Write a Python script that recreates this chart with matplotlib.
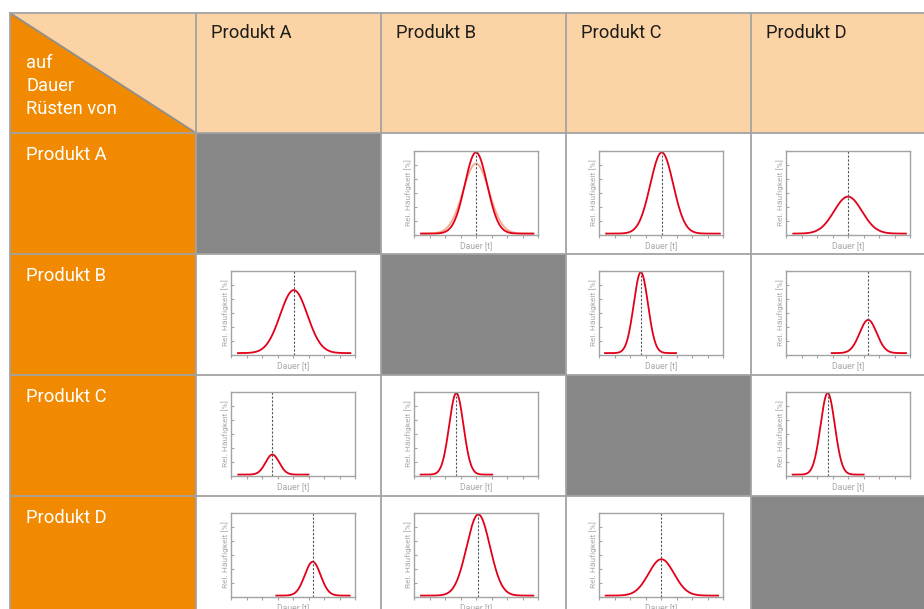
import numpy as np
import matplotlib.pyplot as plt
from matplotlib.patches import Rectangle, Polygon

plt.rcParams['font.family'] = ['Roboto', 'DejaVu Sans']

products = ['Produkt A', 'Produkt B', 'Produkt C', 'Produkt D']
corner_text = ['auf', 'Dauer', 'Rüsten von']

# Lage, Streuung und Höhe der Glockenkurven (Zeile = Rüsten von, Spalte = auf)
means = [[None, 4.0, 4.05, 4.0],
         [4.05, None, 2.7, 5.3],
         [2.67, 2.73, None, 2.69],
         [5.27, 4.15, 4.02, None]]
sigmas = [[None, 0.72, 0.74, 0.9],
          [0.88, None, 0.46, 0.55],
          [0.44, 0.46, None, 0.46],
          [0.51, 0.75, 0.82, None]]
peaks = [[None, 5.9, 5.9, 2.74],
         [4.6, None, 5.88, 2.47],
         [1.53, 5.93, None, 5.93],
         [2.52, 5.9, 2.7, None]]
x_start = [[None, 0.46, 0.46, 0.47],
           [0.45, None, 0.39, 2.95],
           [0.47, 0.43, None, 0.43],
           [2.92, 0.45, 0.43, None]]
x_end = [[None, 7.7, 7.8, 7.74],
         [7.7, None, 4.97, 7.74],
         [5.0, 5.05, None, 5.01],
         [7.66, 7.7, 7.68, None]]
# zweite, hellere Kurve in A -> B
second_mean, second_sigma, second_peak = 4.0, 0.84, 5.1
baseline = 0.1

orange = '#f18a00'
peach = '#fbd3a5'
gray_cell = '#878787'
line_gray = '#a3a3a2'
red = '#e2001a'

col_edges = [10, 196, 381, 566, 751, 940]
row_edges = [13, 133, 254, 375, 496, 620]
ax_left = [231, 414, 599, 786]
ax_top = [151, 270.5, 392, 513]
ax_w, ax_h = 124, 84

W, H = 924, 609
fig = plt.figure(figsize=(W / 100, H / 100), dpi=100)
bg = fig.add_axes([0, 0, 1, 1])
bg.set_xlim(0, W)
bg.set_ylim(H, 0)
bg.axis('off')

# Zellen
for r in range(5):
    for c in range(5):
        x0, x1 = col_edges[c], col_edges[c + 1]
        y0, y1 = row_edges[r], row_edges[r + 1]
        if r == 0 and c == 0:
            bg.add_patch(Polygon([[x0, y0], [x1, y0], [x1, y1]], closed=True,
                                 facecolor=peach, edgecolor='none'))
            bg.add_patch(Polygon([[x0, y0], [x0, y1], [x1, y1]], closed=True,
                                 facecolor=orange, edgecolor='none'))
            bg.plot([x0, x1], [y0, y1], color='#8f8f8e', lw=1.3)
            color = None
        elif r == 0:
            color = peach
        elif c == 0:
            color = orange
        elif r == c:
            color = gray_cell
        else:
            color = 'white'
        if color is not None:
            bg.add_patch(Rectangle((x0, y0), x1 - x0, y1 - y0,
                                   facecolor=color, edgecolor='none'))

for x in col_edges:
    bg.plot([x, x], [row_edges[0], row_edges[-1]], color=line_gray, lw=1.3)
for y in row_edges:
    bg.plot([col_edges[0], col_edges[-1]], [y, y], color=line_gray, lw=1.3)

# Texte
for i, p in enumerate(products):
    bg.text(col_edges[i + 1] + 15, 33, p, fontsize=13.2, color='#1d1d1b',
            va='center', ha='left')
    bg.text(26, row_edges[i + 1] + 22, p, fontsize=13.2, color='white',
            va='center', ha='left')
for i, t in enumerate(corner_text):
    bg.text(26, 63 + 23 * i, t, fontsize=13.2, color='white', va='center', ha='left')

# kleine Diagramme
for r in range(4):
    for c in range(4):
        if means[r][c] is None:
            continue
        ax = fig.add_axes([ax_left[c] / W, 1 - (ax_top[r] + ax_h) / H, ax_w / W, ax_h / H])
        ax.set_xlim(0, 8)
        ax.set_ylim(0, 6)
        x = np.linspace(x_start[r][c], x_end[r][c], 300)
        if r == 0 and c == 1:
            y2 = baseline + (second_peak - baseline) * np.exp(-0.5 * ((x - second_mean) / second_sigma) ** 2)
            ax.plot(x, y2, color='#f5a98c', lw=1.3)
        y = baseline + (peaks[r][c] - baseline) * np.exp(-0.5 * ((x - means[r][c]) / sigmas[r][c]) ** 2)
        ax.plot(x, y, color=red, lw=1.3)
        ax.axvline(means[r][c], color='#555555', lw=0.8, ls=(0, (2, 1.5)))
        ax.set_xticks(range(9))
        ax.set_yticks(range(7))
        ax.tick_params(axis='x', direction='out', length=2.5, color=line_gray, labelbottom=False)
        ax.tick_params(axis='y', direction='in', length=2.5, color=line_gray, labelleft=False)
        for s in ax.spines.values():
            s.set_color(line_gray)
            s.set_linewidth(1.0)
        ax.set_xlabel('Dauer [t]', fontsize=6.2, color='#a8a8a8', labelpad=2)
        ax.set_ylabel('Rel. Häufigkeit [%]', fontsize=6.0, color='#a8a8a8', labelpad=1.5)

fig.savefig('out.png', dpi=100)
